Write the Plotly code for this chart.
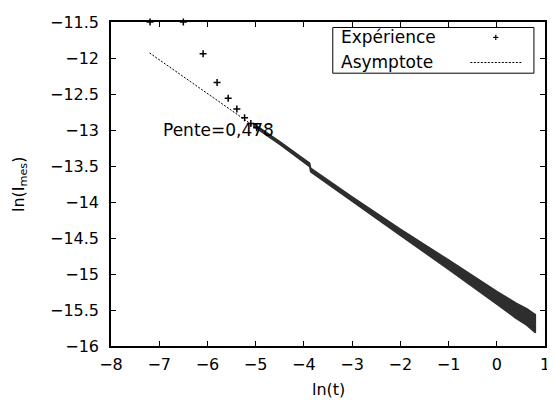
import plotly.graph_objects as go

# Sparse measured points (ln t, ln I_mes)
exp_x = [-7.19, -6.50, -6.09, -5.80, -5.57, -5.39, -5.23, -5.10, -4.98]
exp_y = [-11.50, -11.50, -11.94, -12.34, -12.56, -12.71, -12.83, -12.91, -12.97]

# Dense part of the measurement, read as the upper / lower edge of the band
band_x = [-5.05, -4.50, -3.88, -3.86, -3.00, -2.00, -1.00, -0.50, 0.00, 0.40, 0.62, 0.80]
band_upper = [-12.91, -13.16, -13.46, -13.53, -13.93, -14.375, -14.805, -15.025, -15.24, -15.405, -15.48, -15.565]
band_lower = [-12.945, -13.20, -13.51, -13.58, -13.995, -14.465, -14.935, -15.175, -15.42, -15.615, -15.71, -15.815]

# Asymptote end points
asym_x = [-7.20, -3.90]
asym_y = [-11.93, -13.48]

x_ticks = [-8, -7, -6, -5, -4, -3, -2, -1, 0, 1]
y_ticks = [-16, -15.5, -15, -14.5, -14, -13.5, -13, -12.5, -12, -11.5]

FONT = "DejaVu Sans"

fig = go.Figure()

fig.add_trace(go.Scatter(
    x=asym_x, y=asym_y, mode="lines",
    line=dict(color="black", width=1, dash="2px,1.5px"),
    showlegend=False, hoverinfo="skip"))

fig.add_trace(go.Scatter(
    x=band_x + band_x[::-1], y=band_upper + band_lower[::-1],
    mode="lines", fill="toself", fillcolor="#2e2e2e",
    line=dict(color="#2e2e2e", width=1.5),
    showlegend=False, hoverinfo="skip"))

fig.add_trace(go.Scatter(
    x=exp_x, y=exp_y, mode="markers",
    marker=dict(symbol="cross-thin", size=5, line=dict(color="black", width=1.5)),
    cliponaxis=False, showlegend=False))

axis_common = dict(
    showgrid=False, zeroline=False, showline=True, linecolor="black", linewidth=1.5,
    mirror="ticks", ticks="inside", ticklen=5, tickwidth=1, tickcolor="black",
    tickfont=dict(family=FONT, size=16, color="black"),
)

fig.update_xaxes(range=[-8, 1], tickvals=x_ticks, ticklabelstandoff=3, **axis_common)
fig.update_yaxes(range=[-16, -11.5], tickvals=y_ticks, ticklabelstandoff=7, **axis_common)

shapes = [
    # legend frame
    dict(type="rect", xref="paper", yref="paper", x0=0.511, x1=0.9745, y0=0.842, y1=0.983,
         line=dict(color="black", width=1), fillcolor="white", layer="above"),
    # legend sample for the asymptote
    dict(type="line", xref="paper", yref="paper", x0=0.828, x1=0.947, y0=0.875, y1=0.875,
         line=dict(color="black", width=1, dash="2px,1.5px"), layer="above"),
    # legend sample "+"
    dict(type="line", xref="paper", yref="paper", x0=0.8866, x1=0.8866, y0=0.9445, y1=0.9605,
         line=dict(color="black", width=1.2), layer="above"),
    dict(type="line", xref="paper", yref="paper", x0=0.8806, x1=0.8926, y0=0.9525, y1=0.9525,
         line=dict(color="black", width=1.2), layer="above"),
]

annotations = [
    dict(text="Expérience", xref="paper", yref="paper", x=0.525, y=0.9525,
         xanchor="left", yanchor="middle", showarrow=False,
         font=dict(family=FONT, size=17, color="black")),
    dict(text="Asymptote", xref="paper", yref="paper", x=0.525, y=0.876,
         xanchor="left", yanchor="middle", showarrow=False,
         font=dict(family=FONT, size=17, color="black")),
    dict(text="Pente=0,478", x=-6.96, y=-13.0, xanchor="left", yanchor="middle",
         showarrow=False, font=dict(family=FONT, size=17, color="black")),
    dict(text="ln(t)", xref="paper", yref="paper", x=0.5, y=-0.135,
         xanchor="center", yanchor="middle", showarrow=False,
         font=dict(family=FONT, size=16, color="black")),
    dict(text="ln(I<sub>mes</sub>)", xref="paper", yref="paper", x=-0.212, y=0.5,
         xanchor="center", yanchor="middle", textangle=-90, showarrow=False,
         font=dict(family=FONT, size=16, color="black")),
]

fig.update_layout(
    width=547, height=397,
    margin=dict(l=103, r=5, t=12, b=59),
    paper_bgcolor="white", plot_bgcolor="white",
    showlegend=False,
    shapes=shapes, annotations=annotations,
)

fig.write_html("out.html")
